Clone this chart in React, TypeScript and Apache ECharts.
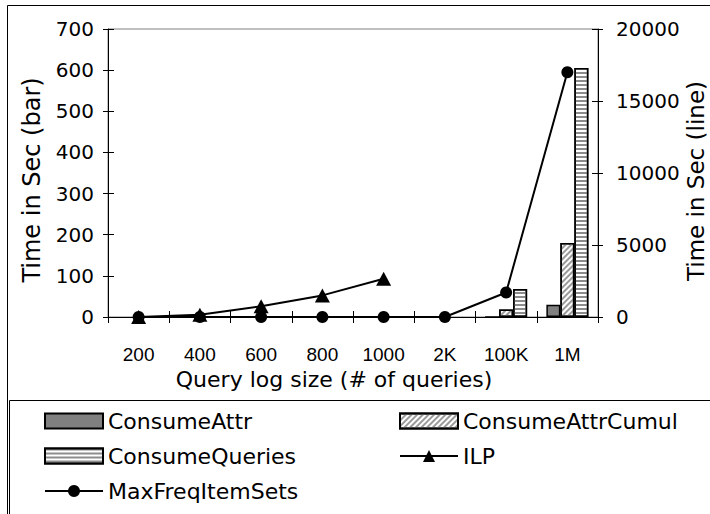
import React, { useEffect, useRef } from 'react';
import * as echarts from 'echarts';

const categories = ['200', '400', '600', '800', '1000', '2K', '100K', '1M'];
const consumeAttr = [null, null, null, null, null, null, 0, 30];
const consumeAttrCumul = [null, null, null, null, null, null, 18, 180];
const consumeQueries = [null, null, null, null, null, null, 68, 605];
const ilp = [0, 150, 750, 1500, 2650, null, null, null];
const maxFreqItemSets = [0, 0, 0, 0, 0, 0, 1700, 17000];
const barAxisRange = [0, 700];
const barAxisStep = 100;
const lineAxisRange = [0, 20000];
const lineAxisStep = 5000;
const lineAxisTitle = 'Time in Sec (line)';

const DJ = '"DejaVu Sans", sans-serif';
const LS = '"Liberation Sans", Arial, sans-serif';

export default function App() {
  const ref = useRef<HTMLDivElement>(null);
  useEffect(() => {
    document.body.style.margin = '0';
    const chart = echarts.init(ref.current!, null, { renderer: 'svg' });
    const tickStyle = { color: '#000', width: 1 };
    const option: any = {
      animation: false,
      backgroundColor: '#ffffff',
      grid: {
        left: 108, right: 112, top: 29, bottom: 197, outerBoundsMode: 'none', containLabel: false,
        show: true, borderColor: '#808080', borderWidth: 1, backgroundColor: 'transparent',
      },
      graphic: [
        { type: 'rect', shape: { x: 7.5, y: 5.5, width: 760, height: 560 }, style: { fill: 'none', stroke: '#000', lineWidth: 1 }, silent: true },
        { type: 'rect', shape: { x: 9.5, y: 400.5, width: 760, height: 200 }, style: { fill: 'none', stroke: '#000', lineWidth: 1 }, silent: true },
        {
          type: 'text', x: 696, y: 181, rotation: Math.PI / 2, silent: true,
          style: { text: lineAxisTitle, fill: '#000', font: '23px "DejaVu Sans", sans-serif', align: 'center', verticalAlign: 'middle' },
        },
      ],
      legend: [
        {
          orient: 'vertical', left: 39, top: 405, itemWidth: 58, itemHeight: 15, itemGap: 13, itemTextGap: 8,
          data: [{ name: 'ConsumeAttr', icon: 'rect' }, { name: 'ConsumeQueries', icon: 'rect' }, 'MaxFreqItemSets'],
          textStyle: { color: '#000', fontFamily: DJ, fontSize: 22 },
        },
        {
          orient: 'vertical', left: 394, top: 405, itemWidth: 58, itemHeight: 15, itemGap: 13, itemTextGap: 8,
          data: [{ name: 'ConsumeAttrCumul', icon: 'rect' }, 'ILP'],
          textStyle: { color: '#000', fontFamily: DJ, fontSize: 22 },
        },
      ],
      xAxis: [
        {
          type: 'category', data: categories, position: 'bottom',
          axisLine: { lineStyle: tickStyle },
          axisTick: { show: true, length: 6, lineStyle: tickStyle },
          axisLabel: { color: '#000', fontFamily: LS, fontSize: 19, margin: 28, interval: 0, hideOverlap: false },
          name: 'Query log size (# of queries)', nameLocation: 'middle', nameGap: 51,
          nameTextStyle: { color: '#000', fontFamily: DJ, fontSize: 22, padding: [0, 38, 0, 0] },
          splitLine: { show: false },
        },
        {
          type: 'category', data: categories, position: 'bottom',
          axisLine: { show: false },
          axisTick: { show: true, inside: true, length: 6, lineStyle: tickStyle },
          axisLabel: { show: false }, splitLine: { show: false },
        },
      ],
      yAxis: [
        {
          type: 'value', position: 'left', min: barAxisRange[0], max: barAxisRange[1], interval: barAxisStep,
          axisLine: { show: true, lineStyle: tickStyle },
          axisTick: { show: true, length: 5, lineStyle: tickStyle },
          axisLabel: { color: '#000', fontFamily: DJ, fontSize: 20, margin: 14 },
          splitLine: { show: false },
          name: 'Time in Sec (bar)', nameLocation: 'middle', nameRotate: 90, nameGap: 64,
          nameTextStyle: { color: '#000', fontFamily: DJ, fontSize: 24, padding: [0, 14, 0, 0] },
        },
        {
          type: 'value', position: 'right', min: lineAxisRange[0], max: lineAxisRange[1], interval: lineAxisStep,
          axisLine: { show: true, lineStyle: tickStyle },
          axisTick: { show: true, length: 5, lineStyle: tickStyle },
          axisLabel: { color: '#000', fontFamily: DJ, fontSize: 20, margin: 18, formatter: (v: number) => String(v) },
          splitLine: { show: false },
        },
        {
          type: 'value', position: 'left', min: barAxisRange[0], max: barAxisRange[1], interval: barAxisStep,
          axisLine: { show: false }, axisTick: { show: true, inside: true, length: 6, lineStyle: tickStyle },
          axisLabel: { show: false }, splitLine: { show: false },
        },
        {
          type: 'value', position: 'right', min: lineAxisRange[0], max: lineAxisRange[1], interval: lineAxisStep,
          axisLine: { show: false }, axisTick: { show: true, inside: true, length: 6, lineStyle: tickStyle },
          axisLabel: { show: false }, splitLine: { show: false },
        },
      ],
      series: [
        {
          name: 'ConsumeAttr', type: 'bar', data: consumeAttr, barWidth: 14, barGap: '0%', z: 2,
          itemStyle: { color: '#808080', borderColor: '#000', borderWidth: 1.5 },
        },
        {
          name: 'ConsumeAttrCumul', type: 'bar', data: consumeAttrCumul, barWidth: 14, barGap: '0%', z: 2,
          itemStyle: {
            color: '#ffffff', borderColor: '#000', borderWidth: 1.5,
            decal: { symbol: 'rect', symbolSize: 1, color: '#9a9a9a', dashArrayX: [1, 0], dashArrayY: [2, 2], rotation: -Math.PI / 4 },
          },
        },
        {
          name: 'ConsumeQueries', type: 'bar', data: consumeQueries, barWidth: 14, barGap: '0%', z: 2,
          itemStyle: {
            color: '#ffffff', borderColor: '#000', borderWidth: 1.5,
            decal: { symbol: 'rect', symbolSize: 1, color: '#8c8c8c', dashArrayX: [1, 0], dashArrayY: [2, 2], rotation: 0 },
          },
        },
        {
          name: 'ILP', type: 'line', yAxisIndex: 1, data: ilp, z: 4,
          symbol: 'triangle', symbolSize: [15, 14], showAllSymbol: true,
          lineStyle: { color: '#000', width: 2 }, itemStyle: { color: '#000' },
        },
        {
          name: 'MaxFreqItemSets', type: 'line', yAxisIndex: 1, data: maxFreqItemSets, z: 5,
          symbol: 'circle', symbolSize: 12, showAllSymbol: true,
          lineStyle: { color: '#000', width: 2 }, itemStyle: { color: '#000' },
        },
      ],
    };
    chart.setOption(option);
    return () => chart.dispose();
  }, []);
  return <div ref={ref} style={{ position: 'fixed', left: 0, top: 0, width: 710, height: 514 }} />;
}
